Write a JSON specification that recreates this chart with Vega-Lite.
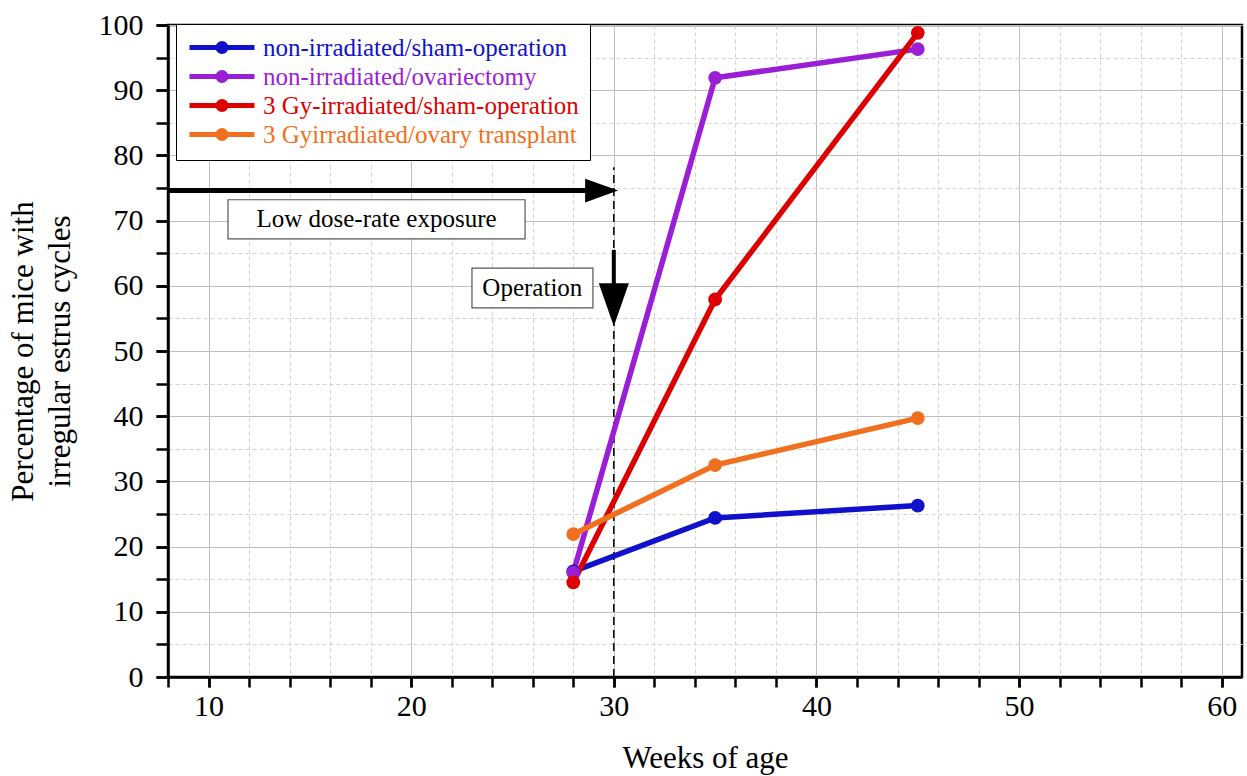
{
  "$schema": "https://vega.github.io/schema/vega-lite/v6.json",
  "width": 1074,
  "height": 652,
  "autosize": "none",
  "padding": {"left": 168, "top": 25, "right": 5, "bottom": 99},
  "background": "white",
  "config": {
    "font": "Liberation Serif",
    "view": {"stroke": "black", "strokeWidth": 2.5},
    "legend": {
      "orient": "none", "legendX": 8, "legendY": -1,
      "fillColor": "white", "strokeColor": "black", "padding": 11,
      "symbolType": "M-3.25,0L3.25,0M0.4,0A0.4,0.4,0,1,1,-0.4,0A0.4,0.4,0,1,1,0.4,0Z",
      "symbolSize": 400, "symbolStrokeWidth": 5, "symbolOffset": 22.5,
      "labelFontSize": 25, "labelFont": "Liberation Serif", "labelOffset": 28.5, "labelLimit": 0,
      "rowPadding": 0
    }
  },
  "datasets": {
    "series": [
      {"group": "non-irradiated/sham-operation", "week": 28, "pct": 16.2},
      {"group": "non-irradiated/sham-operation", "week": 35, "pct": 24.4},
      {"group": "non-irradiated/sham-operation", "week": 45, "pct": 26.3},
      {"group": "non-irradiated/ovariectomy", "week": 28, "pct": 16.0},
      {"group": "non-irradiated/ovariectomy", "week": 35, "pct": 91.9},
      {"group": "non-irradiated/ovariectomy", "week": 45, "pct": 96.3},
      {"group": "3 Gy-irradiated/sham-operation", "week": 28, "pct": 14.5},
      {"group": "3 Gy-irradiated/sham-operation", "week": 35, "pct": 57.9},
      {"group": "3 Gy-irradiated/sham-operation", "week": 45, "pct": 98.8},
      {"group": "3 Gyirradiated/ovary transplant", "week": 28, "pct": 21.9},
      {"group": "3 Gyirradiated/ovary transplant", "week": 35, "pct": 32.5},
      {"group": "3 Gyirradiated/ovary transplant", "week": 45, "pct": 39.7}
    ],
    "vline": [{"x": 30, "y": 0, "y2": 78.2}],
    "harrow": [{"x": 8, "x2": 28.8, "y": 74.6}],
    "harrowhead": [{"x": 29.4, "y": 74.6}],
    "varrow": [{"x": 30, "y": 65.5, "y2": 59.5}],
    "varrowhead": [{"x": 30, "y": 57.1}],
    "boxes": [
      {"label": "Low dose-rate exposure", "x": 10.96, "x2": 25.62, "y": 67.2, "y2": 73.2, "tx": 18.29, "ty": 70.2},
      {"label": "Operation", "x": 23.0, "x2": 28.97, "y": 56.6, "y2": 62.7, "tx": 25.98, "ty": 59.65}
    ]
  },
  "resolve": {"axis": {"x": "independent", "y": "independent"}},
  "layer": [
    {
      "data": {"name": "vline"},
      "mark": {"type": "rule", "color": "black", "strokeWidth": 1.5, "strokeDash": [8, 5]},
      "encoding": {
        "x": {
          "field": "x", "type": "quantitative",
          "scale": {"domain": [8, 61], "nice": false, "zero": false},
          "axis": {
            "orient": "bottom",
            "values": [8, 10, 12, 14, 16, 18, 20, 22, 24, 26, 28, 30, 32, 34, 36, 38, 40, 42, 44, 46, 48, 50, 52, 54, 56, 58, 60],
            "grid": true, "gridDash": [4, 3], "gridColor": "#d2d2d2", "gridWidth": 1,
            "labels": false, "ticks": true, "tickSize": 10, "tickWidth": 2.5, "tickColor": "black",
            "domain": false, "title": null
          }
        },
        "y": {
          "field": "y", "type": "quantitative",
          "scale": {"domain": [0, 100], "nice": false},
          "axis": {
            "orient": "left",
            "values": [0, 5, 10, 15, 20, 25, 30, 35, 40, 45, 50, 55, 60, 65, 70, 75, 80, 85, 90, 95, 100],
            "grid": true, "gridDash": [4, 3], "gridColor": "#d2d2d2", "gridWidth": 1,
            "labels": false, "ticks": true, "tickSize": 12, "tickWidth": 2.5, "tickColor": "black",
            "domain": false, "title": null
          }
        },
        "y2": {"field": "y2"}
      }
    },
    {
      "data": {"name": "series"},
      "mark": {"type": "line", "strokeWidth": 5.5},
      "encoding": {
        "x": {
          "field": "week", "type": "quantitative",
          "scale": {"domain": [8, 61], "nice": false, "zero": false},
          "axis": {
            "orient": "bottom",
            "values": [10, 20, 30, 40, 50, 60],
            "grid": true, "gridColor": "#bfbfbf", "gridWidth": 1,
            "labels": true, "labelFontSize": 30, "labelColor": "black", "labelPadding": 4,
            "ticks": true, "tickSize": 10, "tickWidth": 2.5, "tickColor": "black",
            "domain": true, "domainColor": "black", "domainWidth": 2.5,
            "title": "Weeks of age", "titleFontSize": 31, "titleFontWeight": "normal", "titleColor": "black", "titlePadding": 22
          }
        },
        "y": {
          "field": "pct", "type": "quantitative",
          "scale": {"domain": [0, 100], "nice": false},
          "axis": {
            "orient": "left",
            "values": [0, 10, 20, 30, 40, 50, 60, 70, 80, 90, 100],
            "grid": true, "gridColor": "#bfbfbf", "gridWidth": 1,
            "labels": true, "labelFontSize": 30, "labelColor": "black", "labelPadding": 13,
            "ticks": true, "tickSize": 12, "tickWidth": 2.5, "tickColor": "black",
            "domain": true, "domainColor": "black", "domainWidth": 2.5,
            "title": ["Percentage of mice with", "irregular estrus cycles"],
            "titleFontSize": 31, "titleFontWeight": "normal", "titleColor": "black", "titleLineHeight": 37, "titlePadding": 22
          }
        },
        "color": {
          "field": "group", "type": "nominal",
          "scale": {
            "domain": ["non-irradiated/sham-operation", "non-irradiated/ovariectomy", "3 Gy-irradiated/sham-operation", "3 Gyirradiated/ovary transplant"],
            "range": ["#1111cc", "#9a1ed6", "#dd0000", "#f07020"]
          },
          "legend": {
            "title": null,
            "symbolStrokeColor": {"expr": "scale('color', datum.value)"},
            "symbolFillColor": {"expr": "scale('color', datum.value)"},
            "labelColor": {"expr": "scale('color', datum.value)"}
          }
        }
      }
    },
    {
      "data": {"name": "series"},
      "mark": {"type": "point", "filled": true, "size": 190, "opacity": 1},
      "encoding": {
        "x": {"field": "week", "type": "quantitative", "scale": {"domain": [8, 61], "nice": false, "zero": false}, "axis": null},
        "y": {"field": "pct", "type": "quantitative", "scale": {"domain": [0, 100], "nice": false}, "axis": null},
        "color": {
          "field": "group", "type": "nominal",
          "scale": {
            "domain": ["non-irradiated/sham-operation", "non-irradiated/ovariectomy", "3 Gy-irradiated/sham-operation", "3 Gyirradiated/ovary transplant"],
            "range": ["#1111cc", "#9a1ed6", "#dd0000", "#f07020"]
          },
          "legend": {
            "title": null,
            "symbolStrokeColor": {"expr": "scale('color', datum.value)"},
            "symbolFillColor": {"expr": "scale('color', datum.value)"},
            "labelColor": {"expr": "scale('color', datum.value)"}
          }
        }
      }
    },
    {
      "data": {"name": "harrow"},
      "mark": {"type": "rule", "color": "black", "strokeWidth": 5},
      "encoding": {
        "x": {"field": "x", "type": "quantitative", "scale": {"domain": [8, 61], "nice": false, "zero": false}, "axis": null},
        "x2": {"field": "x2"},
        "y": {"field": "y", "type": "quantitative", "scale": {"domain": [0, 100], "nice": false}, "axis": null}
      }
    },
    {
      "data": {"name": "harrowhead"},
      "mark": {"type": "point", "shape": "M-1,-0.72L1,0L-1,0.72Z", "filled": true, "color": "black", "size": 1089, "opacity": 1},
      "encoding": {
        "x": {"field": "x", "type": "quantitative", "scale": {"domain": [8, 61], "nice": false, "zero": false}, "axis": null},
        "y": {"field": "y", "type": "quantitative", "scale": {"domain": [0, 100], "nice": false}, "axis": null}
      }
    },
    {
      "data": {"name": "varrow"},
      "mark": {"type": "rule", "color": "black", "strokeWidth": 4},
      "encoding": {
        "x": {"field": "x", "type": "quantitative", "scale": {"domain": [8, 61], "nice": false, "zero": false}, "axis": null},
        "y": {"field": "y", "type": "quantitative", "scale": {"domain": [0, 100], "nice": false}, "axis": null},
        "y2": {"field": "y2"}
      }
    },
    {
      "data": {"name": "varrowhead"},
      "mark": {"type": "point", "shape": "M-0.7,-1L0.7,-1L0,1Z", "filled": true, "color": "black", "size": 1849, "opacity": 1},
      "encoding": {
        "x": {"field": "x", "type": "quantitative", "scale": {"domain": [8, 61], "nice": false, "zero": false}, "axis": null},
        "y": {"field": "y", "type": "quantitative", "scale": {"domain": [0, 100], "nice": false}, "axis": null}
      }
    },
    {
      "data": {"name": "boxes"},
      "mark": {"type": "rect", "fill": "white", "stroke": "#555555", "strokeWidth": 1.2},
      "encoding": {
        "x": {"field": "x", "type": "quantitative", "scale": {"domain": [8, 61], "nice": false, "zero": false}, "axis": null},
        "x2": {"field": "x2"},
        "y": {"field": "y", "type": "quantitative", "scale": {"domain": [0, 100], "nice": false}, "axis": null},
        "y2": {"field": "y2"}
      }
    },
    {
      "data": {"name": "boxes"},
      "mark": {"type": "text", "fontSize": 25, "font": "Liberation Serif", "color": "black", "align": "center", "baseline": "middle"},
      "encoding": {
        "x": {"field": "tx", "type": "quantitative", "scale": {"domain": [8, 61], "nice": false, "zero": false}, "axis": null},
        "y": {"field": "ty", "type": "quantitative", "scale": {"domain": [0, 100], "nice": false}, "axis": null},
        "text": {"field": "label"}
      }
    }
  ]
}
